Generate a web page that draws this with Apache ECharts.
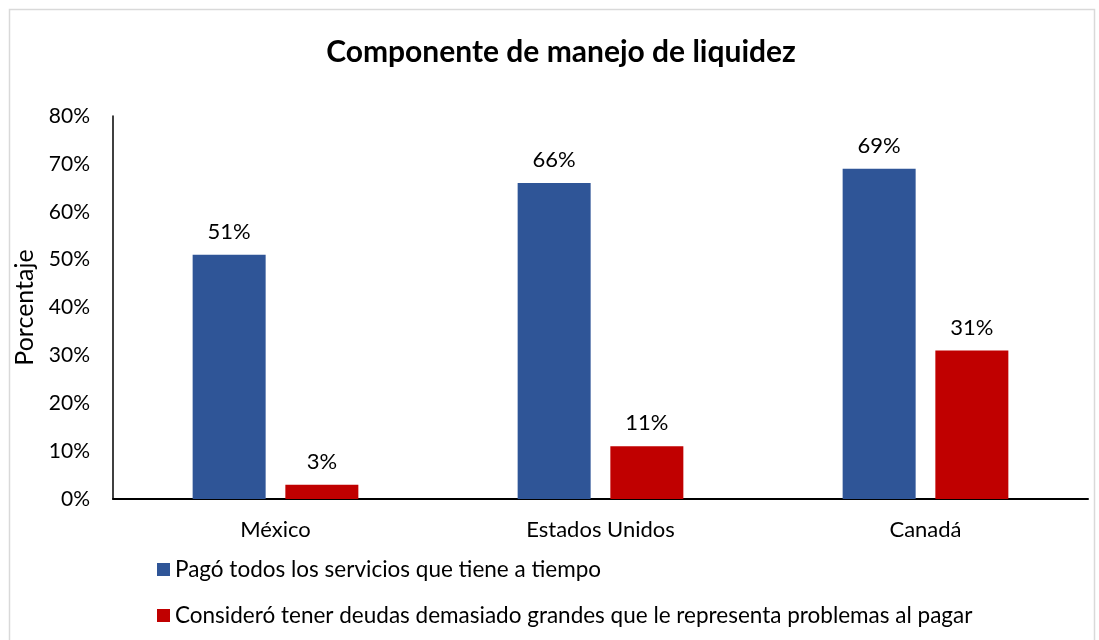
<!DOCTYPE html>
<html>
<head>
<meta charset="utf-8">
<script src="https://cdn.jsdelivr.net/npm/echarts@6/dist/echarts.min.js"></script>
<style>
  html, body { margin: 0; padding: 0; background: #fff; }
  #main { width: 1099px; height: 640px; }
</style>
</head>
<body>
<div id="main"></div>
<script>
// datos del gráfico
const categories = ["México", "Estados Unidos", "Canadá"];
const pagoATiempo = [51, 66, 69];
const deudasGrandes = [3, 11, 31];
const seriesNames = [
  "Pagó todos los servicios que tiene a tiempo",
  "Consideró tener deudas demasiado grandes que le representa problemas al pagar"
];

const FONT = "Lato, 'Open Sans', sans-serif";

const chart = echarts.init(document.getElementById("main"));

const option = {
  backgroundColor: "#fff",
  textStyle: { fontFamily: FONT, color: "#000" },
  graphic: [
    {
      // marco del gráfico
      type: "rect",
      left: 7,
      top: 7,
      shape: { width: 1085, height: 650 },
      style: { fill: "none", stroke: "#d9d9d9", lineWidth: 1.5 },
      silent: true
    }
  ],
  title: {
    text: "Componente de manejo de liquidez",
    left: 556,
    textAlign: "center",
    top: 32,
    textStyle: { fontFamily: FONT, fontSize: 30, fontWeight: "bold", color: "#000" }
  },
  legend: {
    orient: "vertical",
    left: 157,
    top: 558,
    padding: 0,
    itemWidth: 13,
    itemHeight: 13,
    itemGap: 23,
    icon: "rect",
    textStyle: { fontFamily: FONT, fontSize: 22.5, color: "#000" },
    data: seriesNames
  },
  grid: {
    left: 113,
    right: 11,
    top: 116,
    bottom: 141
  },
  xAxis: {
    type: "category",
    data: categories,
    axisLine: { lineStyle: { color: "#000", width: 2 } },
    axisTick: { show: false },
    axisLabel: { fontFamily: FONT, fontSize: 22, color: "#000", margin: 20 }
  },
  yAxis: {
    type: "value",
    min: 0,
    max: 80,
    interval: 10,
    name: "Porcentaje",
    nameLocation: "middle",
    nameGap: 72,
    nameTextStyle: { fontFamily: FONT, fontSize: 25, color: "#000" },
    axisLine: { show: true, lineStyle: { color: "#000", width: 1.5 } },
    axisTick: { show: false },
    splitLine: { show: false },
    axisLabel: {
      fontFamily: FONT,
      fontSize: 21,
      color: "#000",
      margin: 23,
      formatter: "{value}%"
    }
  },
  series: [
    {
      name: seriesNames[0],
      type: "bar",
      data: pagoATiempo,
      barWidth: 73,
      barGap: "27%",
      itemStyle: { color: "#2F5597" },
      label: {
        show: true,
        position: "top",
        distance: 12,
        formatter: "{c}%",
        fontFamily: FONT,
        fontSize: 22,
        color: "#000"
      }
    },
    {
      name: seriesNames[1],
      type: "bar",
      data: deudasGrandes,
      barWidth: 73,
      itemStyle: { color: "#C00000" },
      label: {
        show: true,
        position: "top",
        distance: 12,
        formatter: "{c}%",
        fontFamily: FONT,
        fontSize: 22,
        color: "#000"
      }
    }
  ]
};

chart.setOption(option);
</script>
</body>
</html>
